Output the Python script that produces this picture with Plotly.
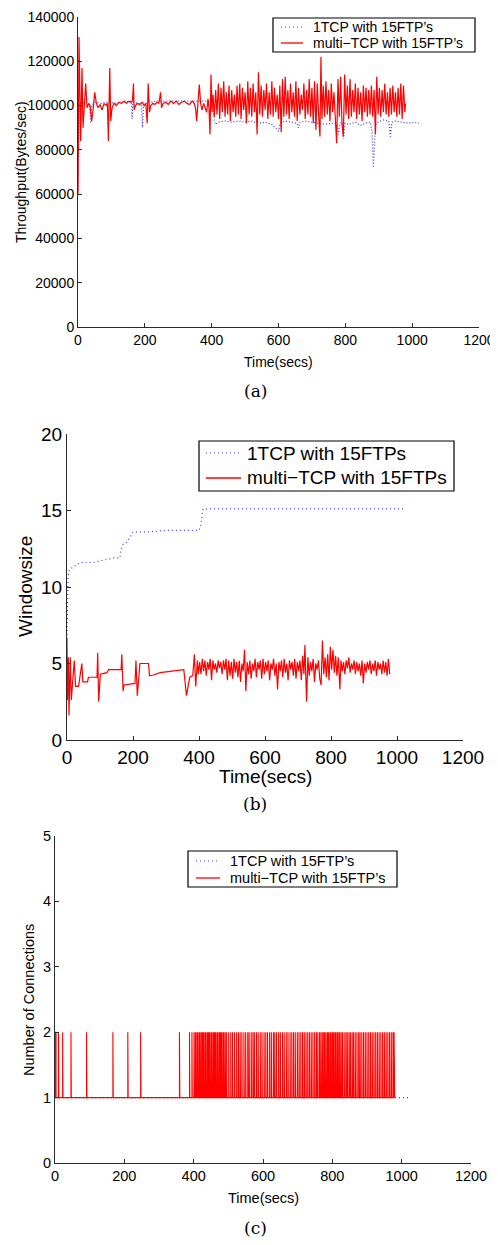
import plotly.graph_objects as go

# ---------------- (a) throughput ----------------
t_thr_single = [0, 2, 4, 10, 20, 30, 35, 38, 41, 50, 70, 90, 110, 130, 150, 160, 162, 164,
                180, 190, 193, 196, 210, 240, 270, 300, 330, 360, 390, 400, 404, 408, 412,
                420, 440, 460, 480, 500, 520, 540, 560, 580, 590, 595, 600, 605, 620, 640,
                655, 660, 664, 680, 700, 720, 740, 760, 775, 780, 784, 790, 795, 799, 810,
                830, 845, 860, 875, 880, 884, 888, 892, 905, 915, 930, 935, 939, 950, 970,
                990, 1005, 1020]
thr_single = [62000, 90000, 101000, 101000, 101500, 101000, 100000, 92000, 100000, 101500,
              101000, 101500, 101000, 101500, 102000, 102000, 94000, 101500, 101000, 100000,
              90000, 100500, 101500, 102000, 102000, 102000, 102000, 102000, 102000, 101500,
              99000, 93000, 91500, 92500, 93000, 92500, 93000, 92500, 93000, 92000, 92500,
              91500, 90000, 89000, 88500, 92000, 93000, 92500, 92000, 90000, 92500, 93000,
              92500, 92000, 91500, 92000, 91500, 87000, 92000, 92500, 85000, 92000, 91500,
              92500, 91000, 92000, 92500, 88000, 72000, 85000, 92000, 93000, 93500, 93000,
              86000, 92500, 93000, 92500, 92000, 92500, 92000]

t_thr_multi = [0, 3, 8, 12, 15, 20, 23, 27, 32, 36, 41, 45, 50, 55, 60, 66, 72, 78, 84, 88,
               91, 95, 98, 102, 108, 115, 122, 130, 138, 145, 152, 158, 163, 166, 168, 172,
               178, 185, 192, 198, 203, 207, 210, 214, 218, 224, 230, 236, 242, 247, 250,
               255, 262, 270, 278, 286, 294, 302, 310, 318, 326, 334, 342, 348, 352, 355,
               359, 363, 367, 371, 376, 380, 385, 389, 392, 395, 398, 401,
               404, 408, 412, 416, 420, 424, 428, 432, 436, 440, 444, 448, 452, 456, 460,
               464, 468, 472, 476, 480, 484, 488, 492, 496, 500, 504, 508, 512, 516, 520,
               524, 528, 532, 536, 540, 544, 548, 552, 556, 560, 564, 568, 572, 576, 580,
               584, 588, 592, 596, 600, 604, 608, 612, 616, 620, 624, 628, 632, 636, 640,
               644, 648, 652, 656, 660, 664, 668, 672, 676, 680, 684, 688, 692, 696, 700,
               704, 708, 712, 716, 720, 724, 727, 730, 734, 738, 742, 746, 750, 754, 758,
               762, 766, 770, 774, 778, 782, 786, 790, 794, 798, 802, 806, 810, 814, 818,
               822, 826, 830, 834, 838, 842, 846, 850, 854, 858, 862, 866, 870, 874, 878,
               882, 886, 890, 894, 898, 902, 906, 910, 914, 918, 922, 926, 930, 934, 938,
               942, 946, 950, 954, 958, 962, 966, 970, 974, 978, 980]
thr_multi = [60000, 131000, 84000, 117000, 90000, 100000, 110000, 99000, 101000, 100000,
             93000, 98000, 106000, 101000, 99000, 100500, 98000, 101000, 100000, 101000,
             84000, 117000, 93000, 99000, 101000, 100000, 101500, 101000, 102000, 101000,
             102000, 101500, 102000, 110000, 98000, 100000, 101000, 100500, 101500, 100000,
             101000, 92000, 110000, 97000, 100000, 101000, 100500, 101500, 101000, 106000,
             99000, 101000, 101500, 100500, 102000, 101000, 102000, 100500, 101500, 102000,
             101000, 100500, 102000, 101000, 98500, 93000, 100000, 109500, 101000, 98000,
             101000, 99500, 97000, 103000, 99000, 87000, 114000, 97000,
             105000, 95000, 107000, 96000, 110000, 94000, 108000, 97000, 111000, 95000,
             106000, 96000, 109000, 93000, 107000, 97000, 105000, 95000, 109000, 96000,
             110000, 94000, 108000, 98000, 106000, 92000, 111000, 96000, 108000, 95000,
             110000, 97000, 106000, 87000, 115000, 96000, 109000, 95000, 107000, 98000,
             110000, 94000, 106000, 96000, 111000, 95000, 108000, 97000, 105000, 94000,
             109000, 88000, 112000, 95000, 113000, 96000, 107000, 94000, 110000, 97000,
             106000, 95000, 111000, 93000, 108000, 96000, 105000, 98000, 110000, 94000,
             107000, 96000, 112000, 95000, 108000, 92000, 111000, 89000, 110000, 96000,
             86000, 122000, 94000, 109000, 95000, 111000, 96000, 107000, 93000, 110000,
             97000, 106000, 91000, 83000, 112000, 95000, 113000, 92000, 86000, 114000,
             96000, 109000, 94000, 112000, 95000, 107000, 97000, 110000, 94000, 108000,
             96000, 106000, 93000, 109000, 97000, 108000, 95000, 107000, 96000, 109000,
             95000, 107000, 87000, 113000, 96000, 108000, 95000, 107000, 97000, 110000,
             96000, 106000, 95000, 108000, 96000, 109000, 97000, 106000, 95000, 108000,
             96000, 110000, 94000, 109000, 97000, 101000]

# ---------------- (b) window size ----------------
t_win_single = [0, 1, 2, 3, 5, 10, 20, 30, 45, 60, 80, 100, 120, 140, 155, 160, 165, 170,
                180, 190, 200, 250, 300, 350, 400, 405, 408, 412, 500, 600, 700, 800, 900,
                1020]
win_single = [6.6, 8.5, 9.5, 10.5, 11.0, 11.2, 11.3, 11.5, 11.6, 11.6, 11.6, 11.7, 11.8,
              11.9, 11.9, 11.9, 12.5, 12.8, 12.9, 13.2, 13.6, 13.6, 13.7, 13.7, 13.7, 14.0,
              14.6, 15.1, 15.1, 15.1, 15.1, 15.1, 15.1, 15.1]

t_win_multi = [0, 1, 4, 6, 10, 13, 22, 26, 35, 45, 48, 62, 65, 91, 93, 96, 101, 121, 126,
               164, 166, 170, 173, 206, 209, 213, 221, 247, 250, 262, 282, 354, 362, 372,
               381, 386, 390, 395, 398,
               402, 406, 410, 414, 418, 422, 426, 430, 434, 438, 442, 446, 450, 454, 458,
               462, 466, 470, 474, 478, 482, 486, 490, 494, 498, 502, 506, 510, 514, 518,
               522, 526, 530, 534, 538, 542, 546, 550, 554, 558, 562, 566, 570, 574, 578,
               582, 586, 590, 594, 598, 602, 606, 610, 614, 618, 622, 626, 630, 634, 638,
               642, 646, 650, 654, 658, 662, 666, 670, 674, 678, 682, 686, 690, 694, 698,
               702, 706, 710, 714, 718, 721, 726, 730, 734, 738, 742, 746, 750, 754, 758,
               762, 766, 770, 774, 778, 782, 786, 790, 794, 798, 802, 806, 810, 814, 818,
               822, 827, 830, 834, 838, 842, 846, 850, 854, 858, 862, 866, 870, 874, 878,
               882, 886, 890, 894, 898, 902, 906, 910, 914, 918, 922, 926, 930, 934, 938,
               942, 946, 950, 954, 958, 962, 966, 970, 974, 978]
win_multi = [6.6, 2.6, 5.4, 1.6, 5.4, 2.6, 5.2, 3.5, 3.5, 5.0, 3.8, 3.8, 4.1, 4.1, 5.7, 2.5,
             4.3, 4.4, 4.6, 4.6, 5.6, 3.2, 3.6, 3.7, 5.2, 2.9, 5.0, 5.0, 4.2, 4.25, 4.4, 4.6,
             2.9, 4.1, 4.2, 5.6, 3.5, 5.2, 4.3,
             5.1, 4.3, 5.3, 4.5, 5.2, 4.2, 5.1, 4.6, 5.3, 3.9, 5.2, 4.6, 5.0, 4.4, 5.2,
             4.7, 5.1, 4.3, 5.2, 4.6, 5.3, 3.9, 5.2, 4.2, 5.1, 4.0, 5.3, 4.4, 5.1, 4.1,
             5.2, 3.8, 5.0, 4.5, 5.9, 3.2, 5.1, 4.3, 5.2, 4.0, 5.0, 4.5, 5.3, 4.1, 5.1,
             4.6, 5.2, 4.0, 5.3, 4.3, 5.1, 4.5, 5.2, 3.9, 5.0, 4.6, 5.3, 4.2, 5.0, 3.3,
             5.1, 4.5, 5.2, 4.1, 5.3, 4.4, 5.0, 3.9, 5.2, 4.6, 5.1, 4.2, 5.3, 4.0, 5.1,
             4.5, 5.2, 3.9, 5.5, 4.3, 6.2, 2.5, 5.4, 4.2, 5.1, 4.5, 5.3, 3.8, 5.0, 4.6,
             5.2, 4.0, 3.6, 6.5, 4.3, 5.4, 4.1, 5.6, 3.9, 6.1, 4.6, 5.9, 4.4, 5.5, 4.2,
             5.4, 3.3, 5.2, 4.5, 5.1, 4.3, 5.2, 4.7, 5.4, 4.4, 5.0, 4.6, 5.2, 4.3, 5.1,
             4.5, 5.0, 4.2, 5.2, 3.7, 5.0, 4.4, 5.1, 4.6, 5.2, 4.3, 5.0, 4.5, 5.2, 4.2,
             5.1, 4.6, 5.0, 4.3, 5.2, 4.4, 5.1, 4.2, 5.3, 4.3]

# ---------------- (c) number of connections ----------------
t_conn_single = [0, 1020]
conn_single = [1, 1]
# seconds at which the multi-TCP run had 2 connections open (1 otherwise)
t_two_conn = [0, 1, 2, 3, 10, 22, 46, 91, 167, 210, 247, 359,
              388, 395, 401, 405, 409, 412, 416, 419, 423, 426, 429, 433, 436, 440, 443,
              446, 450, 453, 457, 460, 463, 467, 470, 474, 477, 480, 484, 487, 491, 495,
              501, 507, 512, 518, 524, 529, 534, 539, 545, 550, 556, 560, 566, 571, 575,
              581, 586, 592, 597, 603, 608, 613, 619, 624, 630, 634, 639, 645, 650, 656,
              661, 667, 672, 678, 683, 688, 693, 699, 704, 709, 714, 719, 724, 729, 734,
              739, 744, 749, 754, 758, 763, 767, 771, 775, 778, 782, 786, 789, 793, 796,
              800, 803, 807, 810, 814, 817, 821, 825, 829, 834, 839, 843, 848, 852, 857,
              861, 866, 871, 876, 880, 885, 890, 895, 900, 905, 910, 915, 920, 925, 930,
              935, 940, 945, 950, 955, 960, 965, 970, 975, 978]
t_conn_end = 980

conn_x, conn_y = [0], [1]
for s in t_two_conn:
    conn_x += [s, s, s + 1, s + 1]
    conn_y += [1, 2, 2, 1]
conn_x.append(t_conn_end)
conn_y.append(1)

labels_a = ["1TCP with 15FTP’s", "multi−TCP with 15FTP’s"]
labels_b = ["1TCP with 15FTPs", "multi−TCP with 15FTPs"]
labels_c = ["1TCP with 15FTP’s", "multi−TCP with 15FTP’s"]

# the page body has an 8px margin, so the figure is 8px smaller and all
# positions below are given in window pixels then shifted
OFF = 8
W, H = 498 - OFF, 1245 - OFF
SANS = "Liberation Sans"
SERIF = "DejaVu Serif"
BLUE = "#3a3aff"
RED = "#ff0000"
DOTS = "1px,3px"


def px_x(p):
    return (p - OFF) / W


def px_y(p):
    return 1 - (p - OFF) / H


fig = go.Figure()

# panel a
fig.add_trace(go.Scatter(x=t_thr_single, y=thr_single, mode="lines", name=labels_a[0],
                         line=dict(color=BLUE, width=1.2, dash="1px,2px"),
                         xaxis="x", yaxis="y"))
fig.add_trace(go.Scatter(x=t_thr_multi, y=thr_multi, mode="lines", name=labels_a[1],
                         line=dict(color=RED, width=1.2), xaxis="x", yaxis="y"))
# panel b
fig.add_trace(go.Scatter(x=t_win_single, y=win_single, mode="lines", name=labels_b[0],
                         line=dict(color=BLUE, width=1.2, dash=DOTS), xaxis="x2", yaxis="y2"))
fig.add_trace(go.Scatter(x=t_win_multi, y=win_multi, mode="lines", name=labels_b[1],
                         line=dict(color=RED, width=1.2), xaxis="x2", yaxis="y2"))
# panel c
fig.add_trace(go.Scatter(x=t_conn_single, y=conn_single, mode="lines", name=labels_c[0],
                         line=dict(color=BLUE, width=1.2, dash=DOTS), xaxis="x3", yaxis="y3"))
fig.add_trace(go.Scatter(x=conn_x, y=conn_y, mode="lines", name=labels_c[1],
                         line=dict(color=RED, width=1.1), xaxis="x3", yaxis="y3"))


def ax(fsize, **kw):
    d = dict(showline=True, linecolor="#2a2a2a", linewidth=1, ticks="inside", ticklen=4,
             tickcolor="#2a2a2a", showgrid=False, zeroline=False, mirror=False,
             automargin=False, ticklabeloverflow="allow",
             tickfont=dict(family=SANS, size=fsize, color="black"))
    d.update(kw)
    return d


# plot boxes in window pixels: (left, right, top, bottom)
box_a = (78, 479, 17, 327)
box_b = (67, 463, 434, 740)
box_c = (55, 471, 836, 1163)

fig.update_layout(
    width=W, height=H, margin=dict(l=0, r=0, t=0, b=0),
    paper_bgcolor="white", plot_bgcolor="white", showlegend=False,
    xaxis=ax(14, domain=[px_x(box_a[0]), px_x(box_a[1])], range=[0, 1200], dtick=200, anchor="y"),
    yaxis=ax(14, domain=[px_y(box_a[3]), px_y(box_a[2])], range=[0, 140000], dtick=20000,
             tickformat="d", anchor="x"),
    xaxis2=ax(19, domain=[px_x(box_b[0]), px_x(box_b[1])], range=[0, 1200], dtick=200, anchor="y2"),
    yaxis2=ax(19, domain=[px_y(box_b[3]), px_y(box_b[2])], range=[0, 20], dtick=5, anchor="x2"),
    xaxis3=ax(14.5, domain=[px_x(box_c[0]), px_x(box_c[1])], range=[0, 1200], dtick=200, anchor="y3"),
    yaxis3=ax(14.5, domain=[px_y(box_c[3]), px_y(box_c[2])], range=[0, 5], dtick=1, anchor="x3"),
)


def legend_box(box, sample, text_x, rows, size, labels):
    l, r, t, b = box
    fig.add_shape(type="rect", xref="paper", yref="paper", layer="above",
                  x0=px_x(l), x1=px_x(r), y0=px_y(b), y1=px_y(t),
                  line=dict(color="black", width=1.2), fillcolor="white")
    styles = [dict(color=BLUE, width=1.2, dash=DOTS), dict(color=RED, width=1.3)]
    for label, row, st in zip(labels, rows, styles):
        fig.add_shape(type="line", xref="paper", yref="paper", layer="above",
                      x0=px_x(sample[0]), x1=px_x(sample[1]), y0=px_y(row), y1=px_y(row),
                      line=st)
        fig.add_annotation(text=label, x=px_x(text_x), y=px_y(row), xref="paper", yref="paper",
                           xanchor="left", yanchor="middle", showarrow=False,
                           font=dict(family=SANS, size=size, color="black"))


legend_box((273, 475, 18, 52), (281, 303), 311, (27, 43), 14, labels_a)
legend_box((199, 454, 441, 491), (206, 241), 245, (453, 478), 19, labels_b)
legend_box((188, 397, 851, 887), (196, 220), 228, (861, 878), 14.5, labels_c)

# axis titles and sub-figure captions
notes = [
    ("Throughput(Bytes/sec)", 21, 172, 14, SANS, -90),
    ("Time(secs)", 278, 362, 14, SANS, 0),
    ("(a)", 255, 391, 17, SERIF, 0),
    ("Windowsize", 25, 587, 19, SANS, -90),
    ("Time(secs)", 265, 776, 19, SANS, 0),
    ("(b)", 255, 804, 17, SERIF, 0),
    ("Number of Connections", 29, 1000, 14.5, SANS, -90),
    ("Time(secs)", 263, 1198, 14.5, SANS, 0),
    ("(c)", 255, 1228, 17, SERIF, 0),
]
for text, x, y, size, fam, rot in notes:
    fig.add_annotation(text=text, x=px_x(x), y=px_y(y), xref="paper", yref="paper",
                       xanchor="center", yanchor="middle", showarrow=False, textangle=rot,
                       font=dict(family=fam, size=size, color="black"))

fig.write_html("out.html")
